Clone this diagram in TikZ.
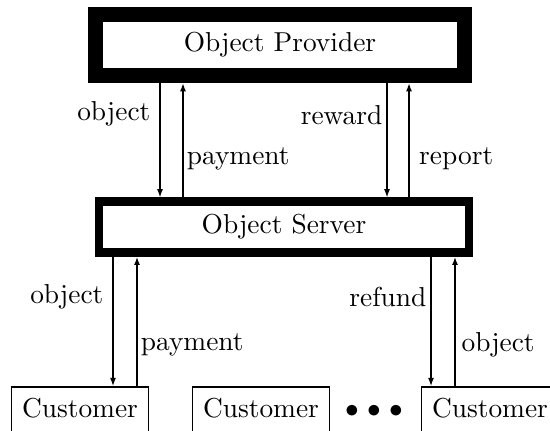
\documentclass[tikz,border=0pt]{standalone}
\usepackage{tikz}
\usetikzlibrary{positioning}
\usetikzlibrary{arrows.meta}
\tikzset{big node/.style={rectangle,draw,minimum width=135pt,inner sep=0pt},
  cust node/.style={rectangle,draw,line width=0.6pt,minimum width=50pt,text height=6.9pt,text depth=25pt,inner ysep=4.4pt,anchor=north},
  down arr/.style={-{Latex[length=3pt,width=2.2pt]},line width=0.4pt},
  up arr/.style={-{Latex[length=3pt,width=2.2pt]},line width=0.8pt},}

\begin{document}
\begin{tikzpicture}[x=0.365pt,y=-0.365pt]
    \useasboundingbox (0,0) rectangle (550,430);
    \clip (0,0) rectangle (550,430);
    \node[big node,line width=5.5pt,minimum height=22.3pt] (prov) at (280,45) {Object Provider};
    \node[big node,line width=3.1pt,minimum height=18.6pt] (serv) at (284,227) {Object Server};
    \node[cust node] (c1) at (80,386) {Customer};
    \node[cust node] (c2) at (261,386) {Customer};
    \node[cust node] (c3) at (490,386) {Customer};
    \node (dots) at (374,411) {$\bullet$\hspace{3pt}$\bullet$\hspace{3pt}$\bullet$};

    \path
    (prov.south -| 160,0) edge[down arr] node[left,pos=.27] {object} (serv.north -| 160,0)
    (serv.north -| 183,0) edge[up arr] node[right,pos=.34,inner xsep=1pt] {payment} (prov.south -| 183,0)
    (prov.south -| 387,0) edge[down arr] node[left,pos=.28,inner xsep=1.5pt] {reward} (serv.north -| 387,0)
    (serv.north -| 409,0) edge[up arr] node[right,pos=.34] {report} (prov.south -| 409,0)
    (serv.south -| 113,0) edge[down arr] node[left,pos=.31] {object} (c1.north -| 113,0)
    (c1.north -| 137,0) edge[up arr] node[right,pos=.32,inner xsep=1pt] {payment} (serv.south -| 137,0)
    (serv.south -| 431,0) edge[down arr] node[left,pos=.31,inner xsep=1.5pt] {refund} (c3.north -| 431,0)
    (c3.north -| 455,0) edge[up arr] node[right,pos=.32,inner xsep=2pt] {object} (serv.south -| 455,0);
\end{tikzpicture}
\end{document}
